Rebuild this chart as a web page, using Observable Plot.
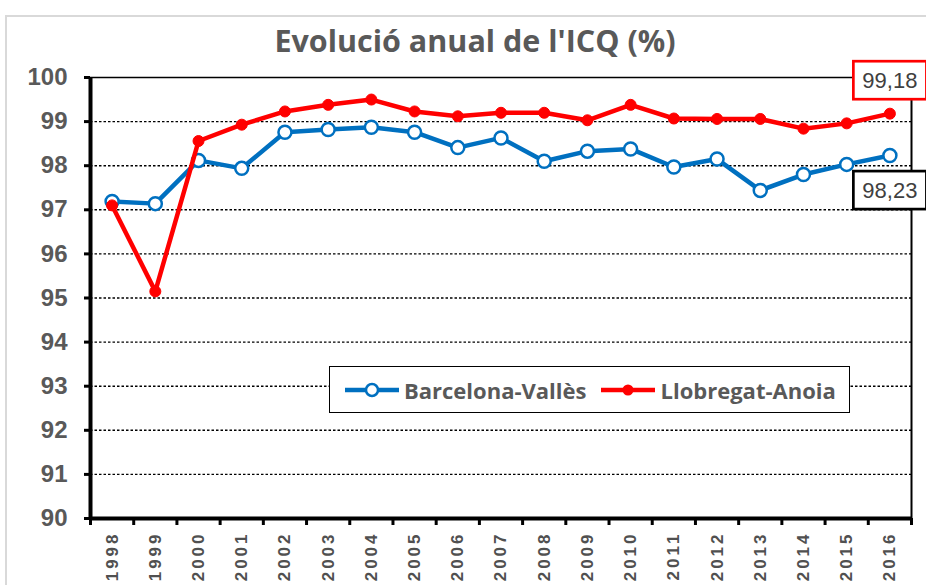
<!DOCTYPE html>
<html><head><meta charset="utf-8">
<script src="https://cdn.jsdelivr.net/npm/d3@7"></script>
<script src="https://cdn.jsdelivr.net/npm/@observablehq/plot@0.6"></script>
<style>
body{margin:0;background:#fff;}
#wrap{position:relative;width:926px;height:585px;overflow:hidden;background:#fff;}
#frame{position:absolute;left:5px;top:15px;width:940px;height:600px;border:2px solid #d9d9d9;pointer-events:none;}
#legend{position:absolute;left:329px;top:366px;width:519px;height:45px;border:1.5px solid #000;background:#fff;display:flex;align-items:center;font-family:"Open Sans",Lato,sans-serif;font-weight:700;font-size:22px;color:#595959;white-space:nowrap;}
.item{display:flex;align-items:center;margin-left:14px;}
.item svg{margin-right:4px;}
.item + .item{margin-left:14px;}
</style></head>
<body><div id="wrap"><div id="frame"></div></div>
<script>
const title = "Evolució anual de l'ICQ (%)";
const years = [1998,1999,2000,2001,2002,2003,2004,2005,2006,2007,2008,2009,2010,2011,2012,2013,2014,2015,2016];
const barcelonaValles = [97.19,97.14,98.12,97.94,98.76,98.82,98.87,98.76,98.41,98.63,98.10,98.33,98.38,97.97,98.15,97.44,97.80,98.03,98.23];
const llobregatAnoia = [97.10,95.15,98.56,98.93,99.23,99.38,99.50,99.23,99.12,99.20,99.20,99.03,99.38,99.07,99.06,99.06,98.84,98.96,99.18];
const seriesNames = ["Barcelona-Vallès","Llobregat-Anoia"];
const seriesColors = ["#0070C0","#FF0000"];
const yTicks = [90,91,92,93,94,95,96,97,98,99,100];

const rows = years.flatMap((yr,i)=>[
  {year:yr, value:barcelonaValles[i], serie:seriesNames[0]},
  {year:yr, value:llobregatAnoia[i], serie:seriesNames[1]}
]);
const bv = rows.filter(d=>d.serie===seriesNames[0]);
const la = rows.filter(d=>d.serie===seriesNames[1]);
const bounds = d3.range(years[0]-0.5, years[years.length-1]+1, 1);
const fmt = v => d3.format(".2f")(v).replace(".", ",");
const lastBV = bv[bv.length-1], lastLA = la[la.length-1];
const arial = "Arial, 'Liberation Sans', sans-serif";

const chart = Plot.plot({
  width: 926, height: 585,
  marginLeft: 90, marginRight: 15, marginTop: 77, marginBottom: 67,
  style: {fontFamily: arial, background: "white", overflow: "visible"},
  x: {domain: [bounds[0], bounds[bounds.length-1]], axis: null},
  y: {domain: [yTicks[0], yTicks[yTicks.length-1]], axis: null},
  color: {domain: seriesNames, range: seriesColors},
  marks: [
    Plot.ruleY(yTicks.slice(1,-1), {stroke: "black", strokeWidth: 1.4, strokeDasharray: "2.5,2"}),
    Plot.ruleY([yTicks[yTicks.length-1]], {stroke: "black", strokeWidth: 1.5}),
    Plot.ruleX([bounds[bounds.length-1]], {stroke: "black", strokeWidth: 2}),
    Plot.axisY({ticks: yTicks, label: null, tickSize: 6, tickPadding: 17, stroke: "black", strokeWidth: 3, fill: "#595959", fontSize: 24, fontWeight: 700, tickFormat: d => String(d)}),
    Plot.axisX({ticks: years, label: null, tickSize: 0, tickPadding: 13, tickRotate: -90, fill: "#505050", fontSize: 17, fontWeight: 700, tickFormat: d => String(d)}),
    Plot.axisX({ticks: bounds, label: null, tickSize: 7, stroke: "black", strokeWidth: 3, tickFormat: () => ""}),
    Plot.ruleX([bounds[0]], {stroke: "black", strokeWidth: 4}),
    Plot.ruleY([yTicks[0]], {stroke: "black", strokeWidth: 4}),
    Plot.line(bv, {x: "year", y: "value", stroke: "serie", strokeWidth: 4.5}),
    Plot.dot(bv, {x: "year", y: "value", r: 6.5, fill: "white", stroke: "serie", strokeWidth: 2.5}),
    Plot.line(la, {x: "year", y: "value", stroke: "serie", strokeWidth: 4.5}),
    Plot.dot(la, {x: "year", y: "value", r: 5.5, fill: "serie", stroke: "serie", strokeWidth: 1}),
    Plot.text([lastLA], {x: "year", y: "value", text: d => fmt(d.value), dy: -33, fill: "#404040", fontSize: 22}),
    Plot.text([lastBV], {x: "year", y: "value", text: d => fmt(d.value), dy: 35, fill: "#404040", fontSize: 22}),
    Plot.text([title], {frameAnchor: "top", lineAnchor: "middle", dy: -35, dx: -26, fontSize: 30.5, fontWeight: 700, fill: "#595959", fontFamily: "'Open Sans', Lato, sans-serif"})
  ]
});
const wrap = document.getElementById("wrap");
wrap.insertBefore(chart, wrap.firstChild);
chart.style.position = "absolute"; chart.style.left = "0"; chart.style.top = "0";

const svg = d3.select(chart);
svg.selectAll("text").filter(function() {
  return /^\d{4}$/.test(this.textContent);
}).style("letter-spacing", "3px");
[[fmt(lastLA.value), "#FF0000"], [fmt(lastBV.value), "#000"]].forEach(([txt, col]) => {
  svg.selectAll("text").filter(function() { return this.textContent === txt; }).each(function() {
    const node = this;
    const b = node.getBBox();
    const t = node.getAttribute("transform");
    const rect = d3.select(node.parentNode).insert("rect", () => node)
      .attr("x", b.x - 9).attr("y", b.y - 6.5).attr("width", b.width + 18).attr("height", b.height + 13)
      .attr("fill", "white").attr("stroke", col).attr("stroke-width", 2.7);
    if (t) rect.attr("transform", t);
  });
});

// legend
const legend = document.createElement("div");
legend.id = "legend";
seriesNames.forEach((name, i) => {
  const item = document.createElement("div");
  item.className = "item";
  const sw = d3.create("svg").attr("width", 56).attr("height", 20);
  sw.append("line").attr("x1", 1).attr("x2", 55).attr("y1", 10).attr("y2", 10).attr("stroke", seriesColors[i]).attr("stroke-width", 4.5);
  if (i === 0) sw.append("circle").attr("cx", 28).attr("cy", 10).attr("r", 6).attr("fill", "white").attr("stroke", seriesColors[i]).attr("stroke-width", 2.5);
  else sw.append("circle").attr("cx", 28).attr("cy", 10).attr("r", 5.5).attr("fill", seriesColors[i]);
  item.appendChild(sw.node());
  const sp = document.createElement("span"); sp.textContent = name;
  item.appendChild(sp);
  legend.appendChild(item);
});
wrap.appendChild(legend);
</script>
</body></html>
